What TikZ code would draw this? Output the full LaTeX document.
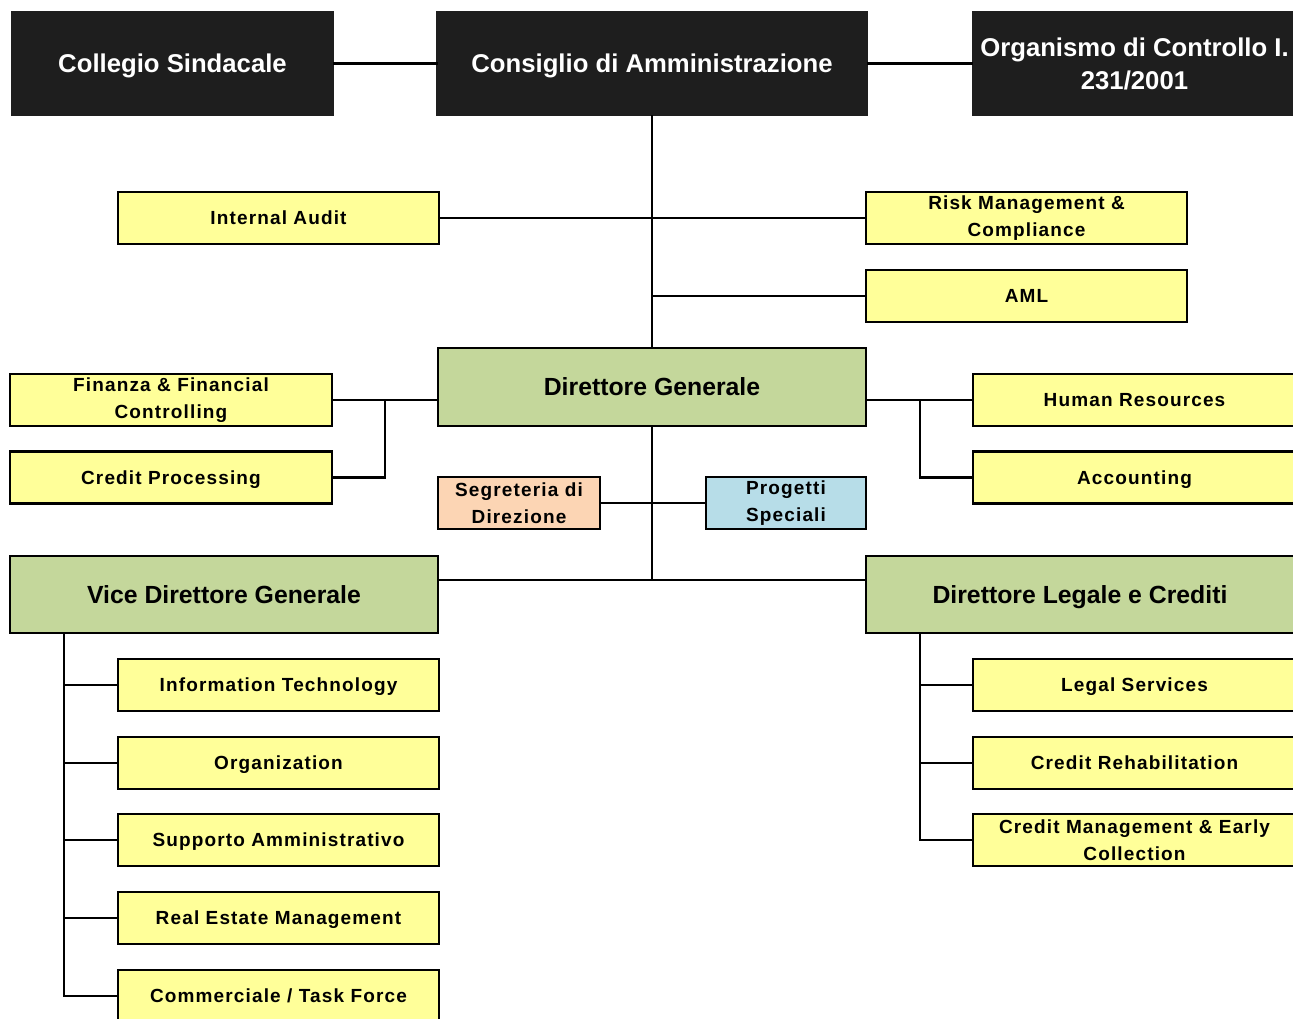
\documentclass[tikz,border=0pt]{standalone}
\usepackage{fontspec}
\setmainfont{Liberation Sans}
\newfontfamily\boxfont[LetterSpace=6]{Liberation Sans}
\definecolor{topblack}{HTML}{1E1E1E}
\definecolor{ybox}{HTML}{FFFF99}
\definecolor{gbox}{HTML}{C4D79B}
\definecolor{pbox}{HTML}{FCD5B4}
\definecolor{bbox}{HTML}{B7DDE8}
\begin{document}
\begin{tikzpicture}[x=1pt,y=-1pt,
  base/.style={draw=black, line width=2.8pt, inner sep=0pt, align=center, font=\bfseries},
  topbox/.style={base, fill=topblack, draw=topblack, text=white, minimum height=103pt, font=\fontsize{25.7}{33}\selectfont\bfseries},
  yelbox/.style={base, fill=ybox, minimum width=321pt, minimum height=52pt, font=\fontsize{19}{27}\selectfont\bfseries\boxfont},
  greenbox/.style={base, fill=gbox, minimum width=428pt, minimum height=77pt, font=\fontsize{24.8}{30}\selectfont\bfseries},
  smallbox/.style={base, minimum height=52pt, font=\fontsize{19}{27}\selectfont\bfseries\boxfont},
  oneline/.style={text height=#1, text depth=0pt},
  conn/.style={line width=2.8pt, line cap=rect}
]
\useasboundingbox (0,0) rectangle (1293,1019);
\clip (0,0) rectangle (1293,1019);
% top row
\node[topbox, oneline=18.5pt, minimum width=321pt] (cs) at (172.5,63.5) {Collegio Sindacale};
\node[topbox, oneline=18.5pt, minimum width=429pt] (cda) at (652,63.5) {Consiglio di Amministrazione};
\node[topbox, minimum width=323pt] (odc) at (1134.5,63.5) {Organismo di Controllo I.\\231/2001};
% staff
\node[yelbox, oneline=13.7pt] (ia) at (278.5,218) {Internal Audit};
\node[yelbox] (rmc) at (1026.5,218) {Risk Management \&\\Compliance};
\node[yelbox, oneline=13.7pt] (aml) at (1026.5,296) {AML};
% DG
\node[greenbox, oneline=17.8pt, minimum height=78pt] (dg) at (652,387) {Direttore Generale};
\node[yelbox, minimum width=322pt] (fin) at (171,400) {Finanza \& Financial\\Controlling};
\node[yelbox, oneline=13.7pt, minimum width=322pt] (cp) at (171,477.5) {Credit Processing};
\node[yelbox, oneline=13.7pt, minimum width=323pt] (hr) at (1134.5,400) {Human Resources};
\node[yelbox, oneline=13.7pt, minimum width=323pt] (acc) at (1134.5,477.5) {Accounting};
\node[smallbox, fill=pbox, minimum width=162pt] (seg) at (519,503) {Segreteria di\\Direzione};
\node[smallbox, fill=bbox, minimum width=160pt] (prog) at (786,503) {Progetti\\Speciali};
% vice / legale
\node[greenbox, oneline=17.8pt] (vdg) at (224,594.5) {Vice Direttore Generale};
\node[greenbox, oneline=17.8pt] (dlc) at (1080,594.5) {Direttore Legale e Crediti};
% left column
\node[yelbox, oneline=13.7pt] (it) at (278.5,685) {Information Technology};
\node[yelbox, oneline=13.7pt] (org) at (278.5,763) {Organization};
\node[yelbox, oneline=13.7pt] (sup) at (278.5,840) {Supporto Amministrativo};
\node[yelbox, oneline=13.7pt] (rem) at (278.5,918) {Real Estate Management};
\node[yelbox, oneline=13.7pt] (com) at (278.5,996) {Commerciale / Task Force};
% right column
\node[yelbox, oneline=13.7pt, minimum width=323pt] (ls) at (1134.5,685) {Legal Services};
\node[yelbox, oneline=13.7pt, minimum width=323pt] (cr) at (1134.5,763) {Credit Rehabilitation};
\node[yelbox, minimum width=323pt] (cm) at (1134.5,840) {Credit Management \& Early\\Collection};
% coordinates
\coordinate (jc) at (652,580);
\coordinate (jl) at (385,400);
\coordinate (jr) at (920,400);
\coordinate (vl) at (64,633);
\coordinate (vr) at (920,633);
% connectors
\draw[conn] (cs.east) -- (cda.west);
\draw[conn] (cda.east) -- (odc.west);
\draw[conn] (cda.south) -- (dg.north);
\draw[conn] (dg.south) -- (jc);
\draw[conn] (ia.east) -- (rmc.west);
\draw[conn] (cda.south |- aml.west) -- (aml.west);
\draw[conn] (fin.east) -- (dg.west |- fin.east);
\draw[conn] (jl) -- (jl |- cp.east) -- (cp.east);
\draw[conn] (dg.east |- hr.west) -- (hr.west);
\draw[conn] (jr) -- (jr |- acc.west) -- (acc.west);
\draw[conn] (seg.east) -- (prog.west);
\draw[conn] (vdg.east |- jc) -- (dlc.west |- jc);
\draw[conn] (vl) -- (vl |- com.west) -- (com.west);
\foreach \n in {it,org,sup,rem} \draw[conn] (vl |- \n.west) -- (\n.west);
\draw[conn] (vr) -- (vr |- cm.west) -- (cm.west);
\foreach \n in {ls,cr} \draw[conn] (vr |- \n.west) -- (\n.west);
\end{tikzpicture}
\end{document}
